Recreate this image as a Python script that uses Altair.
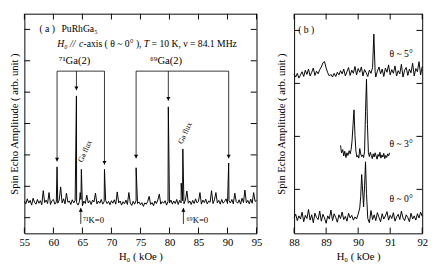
import altair as alt
import pandas as pd

FONT = "Liberation Serif"

# ---------------- Panel (a) data ----------------
field_a = [55.0, 55.25, 55.5, 55.75, 56.0, 56.25, 56.5, 56.75, 57.0, 57.25, 57.5, 57.75,
           58.0, 58.25, 58.5, 58.75, 59.0, 59.25, 59.5, 59.75, 60.0, 60.25, 60.5, 60.75,
           61.0, 61.25, 61.5, 61.75, 62.0, 62.25, 62.5, 62.75, 63.0, 63.25, 63.5, 63.75,
           64.0, 64.25, 64.5, 64.75, 65.0, 65.25, 65.5, 65.75, 66.0, 66.25, 66.5, 66.75,
           67.0, 67.25, 67.5, 67.75, 68.0, 68.25, 68.5, 68.75, 69.0, 69.25, 69.5, 69.75,
           70.0, 70.25, 70.5, 70.75, 71.0, 71.25, 71.5, 71.75, 72.0, 72.25, 72.5, 72.75,
           73.0, 73.25, 73.5, 73.75, 74.0, 74.25, 74.5, 74.75, 75.0, 75.25, 75.5, 75.75,
           76.0, 76.25, 76.5, 76.75, 77.0, 77.25, 77.5, 77.75, 78.0, 78.25, 78.5, 78.75,
           79.0, 79.25, 79.5, 79.75, 80.0, 80.25, 80.5, 80.75, 81.0, 81.25, 81.5, 81.75,
           82.0, 82.25, 82.5, 82.75, 83.0, 83.25, 83.5, 83.75, 84.0, 84.25, 84.5, 84.75,
           85.0, 85.25, 85.5, 85.75, 86.0, 86.25, 86.5, 86.75, 87.0, 87.25, 87.5, 87.75,
           88.0, 88.25, 88.5, 88.75, 89.0, 89.25, 89.5, 89.75, 90.0, 90.25, 90.5, 90.75,
           91.0, 91.25, 91.5, 91.75, 92.0, 92.25, 92.5, 92.75, 93.0, 93.25, 93.5, 93.75,
           94.0, 94.25, 94.5, 94.75, 95.0]
amp_a = [1.02, 0.94, 1.10, 0.97, 1.05, 0.90, 1.12, 0.99, 0.93, 1.08, 0.96, 1.04,
         0.91, 1.36, 0.98, 1.06, 0.95, 1.30, 0.92, 1.04, 1.08, 0.93, 1.00, 0.96,
         1.06, 1.48, 0.97, 1.10, 0.94, 1.28, 0.99, 1.03, 0.92, 1.07, 0.97, 1.05,
         0.98, 0.90, 1.02, 1.08, 0.88, 1.03, 0.95, 1.22, 0.97, 1.04, 0.92, 1.06,
         1.00, 1.28, 0.94, 1.03, 0.96, 1.08, 0.93, 1.01, 1.05, 0.95, 1.02, 0.91,
         1.04, 0.96, 1.07, 0.93, 1.32, 0.97, 1.03, 0.90, 1.01, 0.94, 1.06, 0.92,
         1.30, 0.96, 0.89, 1.02, 0.93, 1.05, 0.95, 1.00, 0.91, 0.98, 0.86, 0.97,
         0.93, 1.02, 1.18, 0.92, 0.98, 0.88, 1.03, 0.95, 1.07, 1.25, 0.93, 1.01,
         0.96, 1.04, 0.90, 1.02, 0.97, 1.06, 0.93, 1.03, 0.95, 1.08, 0.92, 1.05,
         0.97, 1.04, 0.94, 1.06, 1.35, 0.96, 1.03, 0.92, 1.05, 0.95, 1.10, 0.97,
         1.02, 1.30, 0.93, 1.06, 0.98, 1.09, 0.94, 1.03, 0.99, 1.36, 0.95, 1.07,
         1.30, 0.97, 1.05, 0.93, 1.08, 0.96, 1.02, 1.10, 0.95, 1.04, 0.97, 1.08,
         0.94, 1.28, 1.01, 0.96, 1.07, 0.93, 1.12, 0.98, 1.38, 0.97, 1.05, 0.94,
         1.09, 0.96, 1.30, 1.02, 1.05]
peak_field_a = [60.63, 63.97, 64.62, 64.82, 68.8, 74.25, 79.8, 82.02, 82.3, 90.2]
peak_amp_a = [2.12, 4.38, 1.30, 2.04, 2.04, 2.09, 4.03, 1.60, 2.69, 2.24]

# arrows / brackets in panel (a)
arrow_field_a = [60.63, 63.97, 68.8, 74.25, 79.8, 90.2]
arrow_tip_a = [2.29, 4.56, 2.19, 2.39, 4.23, 2.39]
bracket_start = [60.63, 74.25]
bracket_end = [68.8, 90.2]
bracket_level = 5.17
k0_field = [64.72, 82.4]
k0_text = ["⁷¹K=0", "⁶⁹K=0"]
k0_text_field = [65.08, 82.95]

xticks_a = [55, 60, 65, 70, 75, 80, 85, 90, 95]
yticks_a = [0.5, 1.5, 2.5, 3.5, 4.5, 5.5, 6.5]

# ---------------- Panel (b) data ----------------
field_b0 = [88.00, 88.05, 88.10, 88.15, 88.20, 88.25, 88.30, 88.35, 88.40, 88.45, 88.50, 88.55,
            88.60, 88.65, 88.70, 88.75, 88.80, 88.85, 88.90, 88.95, 89.00, 89.05, 89.10, 89.15,
            89.20, 89.25, 89.30, 89.35, 89.40, 89.45, 89.50, 89.55, 89.60, 89.65, 89.70, 89.75,
            89.80, 89.85, 89.90, 89.95, 90.00, 90.05, 90.08, 90.11, 90.14, 90.17, 90.20, 90.23,
            90.26, 90.30, 90.35, 90.40, 90.45, 90.50, 90.55, 90.60, 90.65, 90.70, 90.75, 90.80,
            90.85, 90.90, 90.95, 91.00, 91.05, 91.10, 91.15, 91.20, 91.25, 91.30, 91.35, 91.40,
            91.45, 91.50, 91.55, 91.60, 91.65, 91.70, 91.75, 91.80, 91.85, 91.90, 91.95, 92.00]
amp_b0 = [0.30, 0.36, 0.24, 0.33, 0.27, 0.40, 0.22, 0.34, 0.28, 0.45, 0.25, 0.35,
          0.20, 0.38, 0.30, 0.26, 0.42, 0.23, 0.36, 0.29, 0.19, 0.33, 0.27, 0.44,
          0.24, 0.37, 0.30, 0.21, 0.35, 0.28, 0.40, 0.26, 0.32, 0.23, 0.38, 0.29,
          0.34, 0.25, 0.31, 0.27, 0.36, 0.48, 0.70, 1.11, 0.80, 0.50, 0.90, 1.35,
          0.75, 0.28, 0.20, 0.43, 0.26, 0.35, 0.24, 0.39, 0.30, 0.22, 0.37, 0.27,
          0.33, 0.41, 0.25, 0.34, 0.28, 0.39, 0.23, 0.31, 0.36, 0.26, 0.42, 0.29,
          0.24, 0.35, 0.30, 0.22, 0.38, 0.27, 0.33, 0.25, 0.37, 0.29, 0.40, 0.32]

field_b3 = [89.45, 89.48, 89.52, 89.55, 89.58, 89.62, 89.65, 89.68, 89.72, 89.75, 89.78, 89.81,
            89.84, 89.87, 89.90, 89.93, 89.96, 89.99, 90.02, 90.05, 90.08, 90.11, 90.14, 90.17,
            90.20, 90.23, 90.26, 90.29, 90.32, 90.35, 90.38, 90.41, 90.44, 90.47, 90.50, 90.53,
            90.56, 90.59, 90.62, 90.65, 90.68, 90.71, 90.74, 90.77, 90.80, 90.83, 90.86, 90.89,
            90.92, 90.95, 90.98]
amp_b3 = [1.66, 1.52, 1.58, 1.46, 1.55, 1.43, 1.52, 1.47, 1.56, 1.50, 1.58, 1.75,
          2.05, 2.33, 1.85, 1.55, 1.44, 1.47, 1.42, 1.60, 1.50, 1.45, 1.48, 1.43,
          1.55, 2.30, 2.91, 2.05, 1.52, 1.45, 1.53, 1.47, 1.41, 1.50, 1.44, 1.52,
          1.46, 1.40, 1.49, 1.45, 1.53, 1.42, 1.48, 1.44, 1.51, 1.41, 1.47, 1.43,
          1.50, 1.46, 1.52]

field_b5 = [88.00, 88.05, 88.10, 88.15, 88.20, 88.25, 88.30, 88.35, 88.40, 88.45, 88.50, 88.55,
            88.60, 88.65, 88.70, 88.75, 88.80, 88.85, 88.90, 88.95, 89.00, 89.05, 89.10, 89.15,
            89.20, 89.25, 89.30, 89.35, 89.40, 89.45, 89.50, 89.55, 89.60, 89.65, 89.70, 89.75,
            89.80, 89.85, 89.90, 89.95, 90.00, 90.05, 90.10, 90.15, 90.20, 90.25, 90.30, 90.35,
            90.40, 90.45, 90.49, 90.53, 90.55, 90.60, 90.65, 90.70, 90.75, 90.80, 90.85, 90.90,
            90.95, 91.00, 91.05, 91.10, 91.15, 91.20, 91.25, 91.30, 91.35, 91.40, 91.45, 91.50,
            91.55, 91.60, 91.65, 91.70, 91.75, 91.80, 91.85, 91.90, 91.95, 92.00]
amp_b5 = [3.00, 2.95, 3.02, 2.93, 2.99, 3.05, 2.96, 3.08, 3.00, 3.10, 2.97, 3.04,
          3.12, 2.98, 3.06, 3.01, 3.09, 3.14, 3.22, 3.24, 3.12, 3.03, 2.97, 3.00,
          2.95, 3.02, 2.96, 3.04, 2.99, 3.07, 3.01, 3.10, 2.97, 3.05, 3.13, 2.98,
          3.08, 3.02, 3.15, 2.99, 3.11, 3.04, 3.14, 2.97, 3.09, 3.03, 2.96, 3.08,
          3.02, 3.13, 3.76, 3.05, 2.95, 3.06, 3.14, 3.01, 3.10, 2.96, 3.12, 3.04,
          3.18, 2.99, 3.09, 3.02, 3.16, 2.97, 3.07, 3.01, 3.19, 2.95, 3.08, 3.13,
          2.98, 3.10, 3.03, 3.21, 2.97, 3.11, 3.05, 3.24, 2.99, 3.15]

xticks_b = [88, 89, 90, 91, 92]
yticks_b = [0.83, 1.83, 2.83, 3.83]

# ---------------- helpers ----------------
WA, WB, H = 241, 133, 228
TL = 6
ytitle = "Spin Echo Amplitude ( arb. unit )"
xtitle = "H₀ ( kOe )"


def x_axis(vals):
    return alt.Axis(values=vals, format="d", ticks=False, tickSize=0, domain=False, grid=False,
                    labelFlush=False, labelPadding=4, title=xtitle, titlePadding=3)


def y_axis(pad):
    return alt.Axis(labels=False, ticks=False, tickSize=0, domain=False, grid=False,
                    title=ytitle, titlePadding=pad)


class Panel:
    def __init__(self, sx, sy, ax, ay):
        self.sx, self.sy, self.ax, self.ay = sx, sy, ax, ay

    def X(self, f):
        return alt.X(f, scale=self.sx, axis=self.ax)

    def Y(self, f):
        return alt.Y(f, scale=self.sy, axis=self.ay)


def tick_layers(P, xt, yt, W):
    dx = pd.DataFrame({"x": xt})
    dy = pd.DataFrame({"y": yt})
    base = dict(color="black", strokeWidth=1)
    return [
        alt.Chart(dx).mark_rule(**base).encode(x=P.X("x:Q"), y=alt.value(H - TL), y2=alt.value(H)),
        alt.Chart(dx).mark_rule(**base).encode(x=P.X("x:Q"), y=alt.value(0), y2=alt.value(TL)),
        alt.Chart(dy).mark_rule(**base).encode(y=P.Y("y:Q"), x=alt.value(0), x2=alt.value(TL)),
        alt.Chart(dy).mark_rule(**base).encode(y=P.Y("y:Q"), x=alt.value(W - TL), x2=alt.value(W)),
    ]


def text_layer(P, df, **kw):
    opts = dict(font=FONT, color="black")
    opts.update(kw)
    return alt.Chart(df).mark_text(**opts).encode(x=P.X("x:Q"), y=P.Y("y:Q"), text="t:N")


# ---------------- Panel (a) ----------------
PA = Panel(alt.Scale(domain=[55, 95], nice=False, zero=False),
           alt.Scale(domain=[0, 7], nice=False, zero=False),
           x_axis(xticks_a), y_axis(5))

pts = sorted(list(zip(field_a, amp_a)) + list(zip(peak_field_a, peak_amp_a)))
df_a = pd.DataFrame(pts, columns=["x", "y"])

line_a = alt.Chart(df_a).mark_line(color="black", strokeWidth=1.0).encode(x=PA.X("x:Q"), y=PA.Y("y:Q"))

df_arr = pd.DataFrame({"x": arrow_field_a, "y": [bracket_level] * len(arrow_field_a), "y2": arrow_tip_a})
arr_lines = alt.Chart(df_arr).mark_rule(color="black", strokeWidth=0.8).encode(
    x=PA.X("x:Q"), y=PA.Y("y:Q"), y2="y2:Q")
arr_heads = alt.Chart(df_arr).mark_point(shape="triangle-down", filled=True, size=18, color="black",
                                         opacity=1, yOffset=-2).encode(x=PA.X("x:Q"), y=PA.Y("y2:Q"))
df_br = pd.DataFrame({"x": bracket_start, "x2": bracket_end, "y": [bracket_level] * 2})
brackets = alt.Chart(df_br).mark_rule(color="black", strokeWidth=0.8).encode(
    x=PA.X("x:Q"), x2="x2:Q", y=PA.Y("y:Q"))

df_k0 = pd.DataFrame({"x": k0_field, "y": [0.30] * 2, "y2": [0.81] * 2})
k0_lines = alt.Chart(df_k0).mark_rule(color="black", strokeWidth=0.8).encode(
    x=PA.X("x:Q"), y=PA.Y("y:Q"), y2="y2:Q")
k0_heads = alt.Chart(df_k0).mark_point(shape="triangle-up", filled=True, size=18, color="black",
                                       opacity=1, yOffset=2).encode(x=PA.X("x:Q"), y=PA.Y("y2:Q"))

texts_a = [
    text_layer(PA, pd.DataFrame({"x": [57.6], "y": [6.51], "t": ["( a )"]}), align="left", fontSize=10),
    text_layer(PA, pd.DataFrame({"x": [61.4], "y": [6.51], "t": ["PuRhGa₅"]}), align="left", fontSize=10),
    text_layer(PA, pd.DataFrame({"x": [60.67, 64.42, 75.58], "y": [6.03] * 3, "t": ["H₀ //", "c", "T"]}),
               align="left", fontSize=10, fontStyle="italic"),
    text_layer(PA, pd.DataFrame({"x": [65.18, 76.92], "y": [6.03] * 2,
                                 "t": ["-axis ( θ ~ 0° ),", "= 10 K, ν = 84.1 MHz"]}), align="left", fontSize=10),
    text_layer(PA, pd.DataFrame({"x": [63.63, 79.42], "y": [5.49] * 2, "t": ["⁷¹Ga(2)", "⁶⁹Ga(2)"]}),
               align="center", fontSize=11),
    text_layer(PA, pd.DataFrame({"x": [65.5, 82.75], "y": [2.61, 3.19], "t": ["Ga flux", "Ga flux"]}),
               align="center", fontSize=8, angle=295),
    text_layer(PA, pd.DataFrame({"x": k0_text_field, "y": [0.43] * 2, "t": k0_text}), align="left", fontSize=9),
]

panel_a = alt.layer(line_a, *tick_layers(PA, xticks_a, yticks_a, WA), brackets, arr_lines, arr_heads,
                    k0_lines, k0_heads, *texts_a).properties(width=WA, height=H)

# ---------------- Panel (b) ----------------
PB = Panel(alt.Scale(domain=[88, 92], nice=False, zero=False),
           alt.Scale(domain=[0, 4.145], nice=False, zero=False),
           x_axis(xticks_b), y_axis(8))

df_b = pd.concat([
    pd.DataFrame({"x": field_b0, "y": amp_b0, "s": "0"}),
    pd.DataFrame({"x": field_b3, "y": amp_b3, "s": "3"}),
    pd.DataFrame({"x": field_b5, "y": amp_b5, "s": "5"}),
])

line_b = alt.Chart(df_b).mark_line(color="black", strokeWidth=1.0).encode(
    x=PB.X("x:Q"), y=PB.Y("y:Q"), detail="s:N")

texts_b = [
    text_layer(PB, pd.DataFrame({"x": [88.38], "y": [3.83], "t": ["( b )"]}), align="center", fontSize=10),
    text_layer(PB, pd.DataFrame({"x": [91.34] * 3, "y": [3.39, 1.68, 0.65], "t": ["θ ~ 5°", "θ ~ 3°", "θ ~ 0°"]}),
               align="center", fontSize=10),
]

panel_b = alt.layer(line_b, *tick_layers(PB, xticks_b, yticks_b, WB), *texts_b).properties(width=WB, height=H)

chart = alt.hconcat(panel_a, panel_b, spacing=13).properties(padding=0).configure_view(
    stroke="black", strokeWidth=1
).configure_axis(
    labelFont=FONT, titleFont=FONT, labelFontSize=11, titleFontSize=11, titleFontWeight="normal",
    labelColor="black", titleColor="black"
)

chart.save("out.html", embed_options={"renderer": "svg", "actions": False})
